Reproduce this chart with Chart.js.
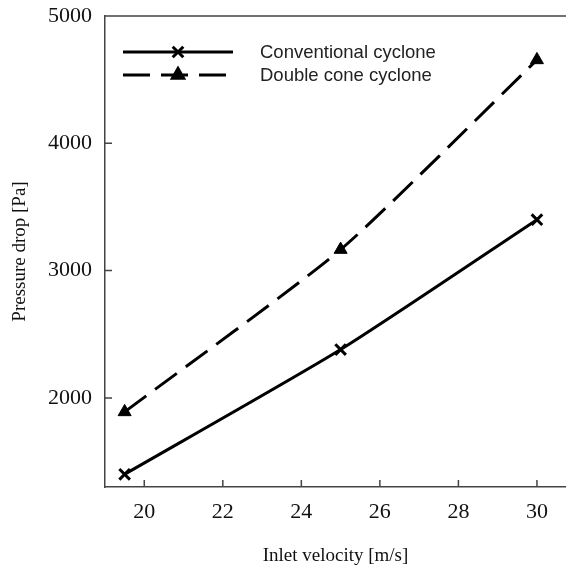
<!DOCTYPE html>
<html>
<head>
<meta charset="utf-8">
<script src="https://cdn.jsdelivr.net/npm/chart.js@4"></script>
<style>
  html, body { margin: 0; padding: 0; background: #fff; overflow: hidden; }
  #wrap { width: 566px; height: 569px; }
</style>
</head>
<body>
<div id="wrap"><canvas id="chart" width="566" height="569"></canvas></div>
<script>
// values
const velocity = [19.5, 25, 30];
const conventional = [1400, 2380, 3400];
const doubleCone = [1890, 3165, 4655];
const xTicks = [20, 22, 24, 26, 28, 30];
const yTicks = [2000, 3000, 4000, 5000];
const seriesNames = ['Conventional cyclone', 'Double cone cyclone'];

const axisColor = '#444';
const textColor = '#111';
const serif = '"Liberation Serif", "Times New Roman", serif';

// ticks pointing inwards + top frame line
const frame = {
  id: 'frame',
  afterDraw(chart) {
    const ctx = chart.ctx;
    const a = chart.chartArea;
    const x = chart.scales.x, y = chart.scales.y;
    ctx.save();
    ctx.strokeStyle = axisColor;
    ctx.lineWidth = 1.5;
    ctx.beginPath();
    ctx.moveTo(a.left, a.top);
    ctx.lineTo(a.right, a.top);
    xTicks.forEach(v => {
      const px = x.getPixelForValue(v);
      ctx.moveTo(px, a.bottom);
      ctx.lineTo(px, a.bottom - 7);
    });
    yTicks.forEach(v => {
      const py = y.getPixelForValue(v);
      ctx.moveTo(a.left, py);
      ctx.lineTo(a.left + 7, py);
    });
    ctx.stroke();
    ctx.restore();
  }
};

// legend drawn like the original: long line samples with a marker in the middle
const legendBox = {
  id: 'legendBox',
  afterDraw(chart) {
    const ctx = chart.ctx;
    const rows = [52, 75];
    ctx.save();
    chart.data.datasets.forEach((ds, i) => {
      const yy = rows[i];
      ctx.strokeStyle = '#000';
      ctx.fillStyle = '#000';
      ctx.lineWidth = ds.borderWidth;
      ctx.setLineDash(ds.borderDash || []);
      ctx.beginPath();
      ctx.moveTo(123, yy);
      ctx.lineTo(233, yy);
      ctx.stroke();
      ctx.setLineDash([]);
      Chart.helpers.drawPoint(ctx, {
        pointStyle: ds.pointStyle,
        radius: ds.pointStyle === 'triangle' ? 6.5 : ds.pointRadius,
        borderWidth: ds.pointBorderWidth,
        rotation: 0
      }, 178, yy);
      ctx.fillStyle = '#222';
      ctx.font = '18.5px "Liberation Sans", Arial, sans-serif';
      ctx.textBaseline = 'middle';
      ctx.fillText(ds.label, 260, yy + 1);
    });
    ctx.restore();
  }
};

new Chart(document.getElementById('chart'), {
  type: 'line',
  data: {
    datasets: [
      {
        label: seriesNames[0],
        data: velocity.map((v, i) => ({ x: v, y: conventional[i] })),
        borderColor: '#000',
        backgroundColor: '#000',
        borderWidth: 3,
        pointStyle: 'crossRot',
        pointRadius: 7.5,
        pointBorderWidth: 3,
        tension: 0.2
      },
      {
        label: seriesNames[1],
        data: velocity.map((v, i) => ({ x: v, y: doubleCone[i] })),
        borderColor: '#000',
        backgroundColor: '#000',
        borderWidth: 3,
        borderDash: [27, 11],
        pointStyle: 'triangle',
        pointRadius: 7.5,
        pointBorderWidth: 1,
        tension: 0.2
      }
    ]
  },
  options: {
    responsive: false,
    animation: false,
    layout: { autoPadding: false, padding: { top: 16, left: 0, right: 0, bottom: 0 } },
    plugins: { legend: { display: false }, tooltip: { enabled: false } },
    scales: {
      x: {
        type: 'linear',
        min: 19,
        max: 30.74,
        afterBuildTicks: s => { s.ticks = xTicks.map(v => ({ value: v })); },
        afterFit: s => { s.height = 82; s.paddingLeft = 0; s.paddingRight = 0; },
        grid: { display: false, drawTicks: false },
        border: { color: axisColor, width: 1.5 },
        ticks: { color: textColor, font: { family: serif, size: 22 }, padding: 12, maxRotation: 0 },
        title: {
          display: true,
          text: 'Inlet velocity [m/s]',
          color: textColor,
          font: { family: serif, size: 19 },
          padding: { top: 0, bottom: 2 }
        }
      },
      y: {
        min: 1300,
        max: 5000,
        afterBuildTicks: s => { s.ticks = yTicks.map(v => ({ value: v })); },
        afterFit: s => { s.width = 105; s.paddingTop = 0; s.paddingBottom = 0; },
        grid: { display: false, drawTicks: false },
        border: { color: axisColor, width: 1.5 },
        ticks: {
          color: textColor,
          font: { family: serif, size: 22 },
          padding: 13,
          callback: v => String(v)
        },
        title: {
          display: true,
          text: 'Pressure drop [Pa]',
          color: textColor,
          font: { family: serif, size: 19 },
          padding: { top: 9, bottom: 0 }
        }
      }
    }
  },
  plugins: [frame, legendBox]
});
</script>
</body>
</html>
